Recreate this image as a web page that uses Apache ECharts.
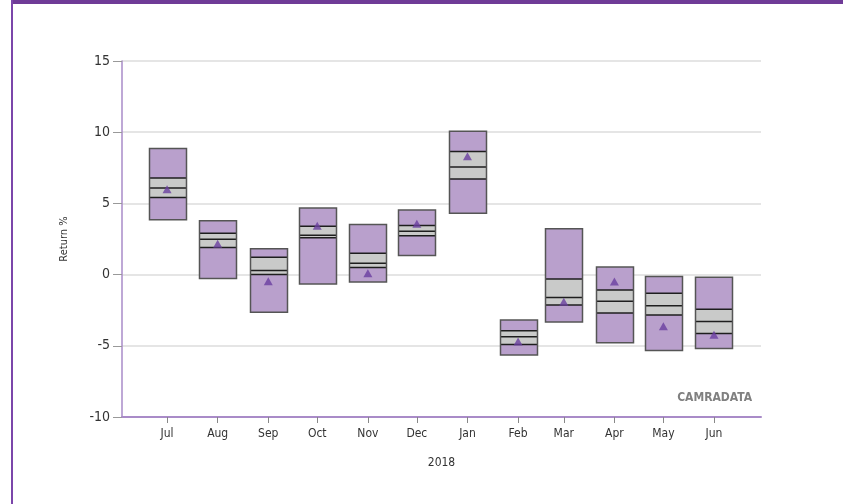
<!DOCTYPE html>
<html>
<head>
<meta charset="utf-8">
<script src="https://cdn.jsdelivr.net/npm/echarts@6/dist/echarts.min.js"></script>
<style>
    html, body { margin: 0; padding: 0; background: #fff; }
    #chart { width: 843px; height: 504px; }
</style>
</head>
<body>
<div id="chart"></div>
<script>
// month labels and the date each box sits on
var monthLabels = ['Jul', 'Aug', 'Sep', 'Oct', 'Nov', 'Dec', 'Jan', 'Feb', 'Mar', 'Apr', 'May', 'Jun'];
var monthDates = ['2017-07-01', '2017-08-01', '2017-09-01', '2017-10-01', '2017-11-01', '2017-12-01',
    '2018-01-01', '2018-02-01', '2018-03-01', '2018-04-01', '2018-05-01', '2018-06-01'];

// return % per month: range, quartiles, median and mean
var maxVals = [8.85, 3.78, 1.81, 4.67, 3.52, 4.53, 10.07, -3.19, 3.22, 0.54, -0.14, -0.19];
var q3Vals = [6.78, 2.91, 1.22, 3.40, 1.50, 3.45, 8.64, -3.94, -0.31, -1.08, -1.31, -2.44];
var medVals = [6.08, 2.49, 0.28, 2.77, 0.80, 3.05, 7.56, -4.37, -1.60, -1.88, -2.18, -3.29];
var q1Vals = [5.42, 1.90, 0.00, 2.58, 0.49, 2.73, 6.71, -4.91, -2.14, -2.70, -2.84, -4.13];
var minVals = [3.85, -0.28, -2.65, -0.66, -0.52, 1.34, 4.30, -5.65, -3.33, -4.79, -5.33, -5.19];
var meanVals = [5.99, 2.16, -0.47, 3.43, 0.09, 3.57, 8.31, -4.69, -1.90, -0.49, -3.62, -4.23];

var yTicks = [-10, -5, 0, 5, 10, 15];

var DAY = 86400000;
function toDay(s) {
    var p = s.split('-');
    return Date.UTC(+p[0], +p[1] - 1, +p[2]) / DAY;
}

// x is counted in days, so the months keep their real spacing
var tickDays = monthDates.map(toDay);
var boxData = [];
var meanData = [];
for (var i = 0; i < tickDays.length; i++) {
    boxData.push([tickDays[i], maxVals[i], q3Vals[i], medVals[i], q1Vals[i], minVals[i]]);
    meanData.push([tickDays[i], meanVals[i]]);
}

var fontFam = "'DejaVu Sans Condensed', 'Liberation Sans Narrow', sans-serif";
var boxW = 37;

function renderBox(params, api) {
    var x = api.value(0);
    var pMax = api.coord([x, api.value(1)]);
    var pQ3 = api.coord([x, api.value(2)]);
    var pMed = api.coord([x, api.value(3)]);
    var pQ1 = api.coord([x, api.value(4)]);
    var pMin = api.coord([x, api.value(5)]);
    var left = Math.round(pMax[0] - boxW / 2) + 0.5;

    function hLine(y) {
        return {
            type: 'line',
            shape: { x1: left, y1: y, x2: left + boxW, y2: y },
            style: { stroke: '#1e1e1e', lineWidth: 1.5 }
        };
    }

    return {
        type: 'group',
        children: [
            {
                type: 'rect',
                shape: { x: left, y: pMax[1], width: boxW, height: pMin[1] - pMax[1] },
                style: { fill: '#b9a0cc' }
            },
            {
                type: 'rect',
                shape: { x: left, y: pQ3[1], width: boxW, height: pQ1[1] - pQ3[1] },
                style: { fill: '#c9cac9' }
            },
            hLine(pQ3[1]),
            hLine(pMed[1]),
            hLine(pQ1[1]),
            {
                type: 'rect',
                shape: { x: left, y: pMax[1], width: boxW, height: pMin[1] - pMax[1] },
                style: { fill: 'none', stroke: '#555555', lineWidth: 1.5 }
            }
        ]
    };
}

var option = {
    animation: false,
    backgroundColor: '#ffffff',
    grid: {
        left: 122,
        right: 82,
        top: 61,
        bottom: 87
    },
    xAxis: {
        type: 'value',
        min: toDay('2017-06-03') + 0.4,
        max: toDay('2018-06-29') + 0.8,
        name: '2018',
        nameLocation: 'middle',
        nameGap: 40,
        nameTextStyle: { color: '#333', fontSize: 12, fontFamily: fontFam },
        axisLine: { show: true, onZero: false, lineStyle: { color: '#a98bc8', width: 2 } },
        axisTick: {
            show: true,
            customValues: tickDays,
            length: 6,
            lineStyle: { color: '#888' }
        },
        axisLabel: {
            customValues: tickDays,
            margin: 11,
            color: '#333',
            fontSize: 12,
            fontFamily: fontFam,
            formatter: function (value) {
                var idx = tickDays.indexOf(value);
                return idx >= 0 ? monthLabels[idx] : '';
            }
        },
        splitLine: { show: false }
    },
    yAxis: {
        type: 'value',
        min: yTicks[0],
        max: yTicks[yTicks.length - 1],
        interval: 5,
        name: 'Return %',
        nameLocation: 'middle',
        nameGap: 52,
        nameTextStyle: { color: '#333', fontSize: 11, fontFamily: fontFam },
        axisLine: { show: true, onZero: false, lineStyle: { color: '#a98bc8', width: 1.5 } },
        axisTick: { show: true, length: 9, lineStyle: { color: '#999' } },
        axisLabel: { margin: 12, color: '#333', fontSize: 14, fontFamily: fontFam },
        splitLine: { show: true, lineStyle: { color: '#dcdcdc', width: 1.5 } }
    },
    graphic: [
        {
            type: 'rect',
            left: 12, top: 0,
            shape: { width: 831, height: 4 },
            style: { fill: '#6f3b97' }
        },
        {
            type: 'rect',
            left: 11, top: 0,
            shape: { width: 2, height: 504 },
            style: { fill: '#7b46aa' }
        },
        {
            type: 'text',
            right: 91, top: 392,
            style: {
                text: 'CAMRADATA',
                fill: '#808080',
                font: 'bold 12px ' + fontFam
            }
        }
    ],
    series: [
        {
            name: 'range',
            type: 'custom',
            renderItem: renderBox,
            encode: { x: 0, y: [1, 2, 3, 4, 5] },
            data: boxData,
            z: 2
        },
        {
            name: 'mean',
            type: 'scatter',
            symbol: 'triangle',
            symbolSize: [9, 8],
            itemStyle: { color: '#6a3fa0' },
            data: meanData,
            z: 3
        }
    ]
};

var chart = echarts.init(document.getElementById('chart'));
chart.setOption(option);
</script>
</body>
</html>
